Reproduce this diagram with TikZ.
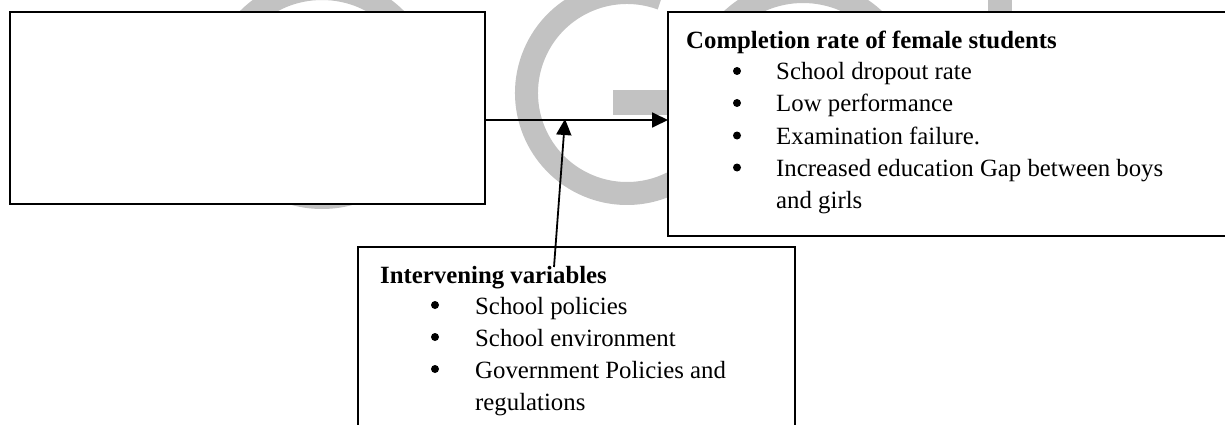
\documentclass[tikz,border=0pt]{standalone}
\usepackage{fontspec}
\setmainfont{Liberation Serif}
\usetikzlibrary{arrows.meta}
\begin{document}
\begin{tikzpicture}[x=1pt,y=1pt,
  box/.style={draw=black, line width=2pt, fill=white, rectangle,
    inner sep=0pt, outer sep=0pt, anchor=north west},
  headtext/.style={anchor=base west, inner sep=0pt,
    font=\fontsize{24.8}{30}\selectfont\bfseries},
  itemtext/.style={anchor=base west, inner sep=0pt,
    font=\fontsize{24.8}{30}\selectfont},
  dot/.style={circle, fill=black, inner sep=0pt, minimum size=8pt},
  link/.style={line width=1.8pt, -{Triangle[length=16pt,width=15pt]}},
  faint/.style={draw=black!24, line width=23pt},
]
\useasboundingbox (0,0) rectangle (1225,-425);
\clip (0,0) rectangle (1225,-425);

% faint lettering behind the boxes
\draw[faint] (322,-93) circle (104.5);
\draw[faint] (803,-96) circle (104.5);
\draw[faint] (627,-93) ++(70:100.5) arc [start angle=70, end angle=360, radius=100.5];
\fill[black!24] (613,-90) rectangle (740,-115);
\fill[black!24] (988,5) rectangle (1012,-40);

% boxes
\node[box, minimum width=475pt, minimum height=192pt] (cause) at (10,-12) {};
\node[box, minimum width=600pt, minimum height=224pt] (effect) at (668,-12) {};
\node[box, minimum width=437pt, minimum height=220pt] (interv) at (358,-247) {};

% outcome box text
\node[headtext] (efftitle) at (686,-48.5) {Completion rate of female students};
\node[dot] (eb1) at (737,-71) {};
\node[itemtext] (ei1) at (776,-80) {School dropout rate};
\node[dot] (eb2) at (737,-103) {};
\node[itemtext] (ei2) at (776,-112) {Low performance};
\node[dot] (eb3) at (737,-135.5) {};
\node[itemtext] (ei3) at (776,-144.5) {Examination failure.};
\node[dot] (eb4) at (737,-167.5) {};
\node[itemtext] (ei4) at (776,-176.5) {Increased education Gap between boys};
\node[itemtext] (ei5) at (776,-208.5) {and girls};

% intervening box text
\node[headtext] (ivtitle) at (380,-283) {Intervening variables};
\node[dot] (ib1) at (435,-305) {};
\node[itemtext] (ii1) at (475,-314) {School policies};
\node[dot] (ib2) at (435,-337) {};
\node[itemtext] (ii2) at (475,-346) {School environment};
\node[dot] (ib3) at (435,-369) {};
\node[itemtext] (ii3) at (475,-378) {Government Policies and};
\node[itemtext] (ii4) at (475,-410) {regulations};

% connectors
\coordinate (hjoin) at (565,-119);
\coordinate (ivfoot) at (554,-267);
\draw[link] (cause.east |- 0,-120) -- (effect.west |- 0,-120);
\draw[link] (ivfoot) -- (hjoin);
\end{tikzpicture}
\end{document}
